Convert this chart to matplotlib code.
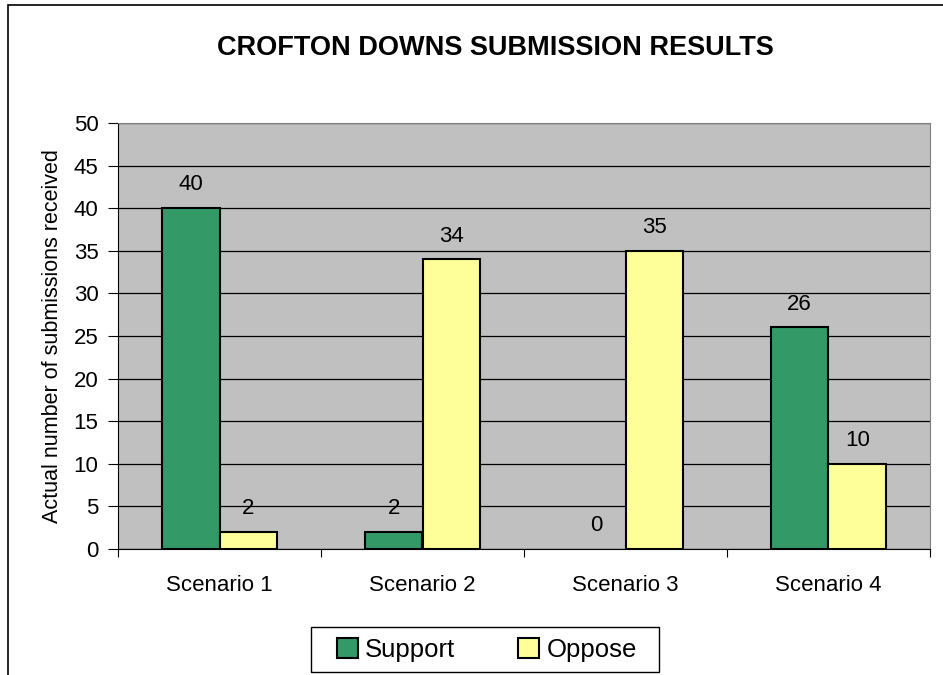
import matplotlib
matplotlib.use('Agg')
import matplotlib.pyplot as plt
from matplotlib.patches import Rectangle
import numpy as np

# data
categories = ['Scenario 1', 'Scenario 2', 'Scenario 3', 'Scenario 4']
support = [40, 2, 0, 26]
oppose = [2, 34, 35, 10]

plt.rcParams['font.family'] = ['Liberation Sans', 'DejaVu Sans']

fig = plt.figure(figsize=(9.43, 6.75), dpi=100)
ax = fig.add_axes([118 / 943, 1 - 549 / 675, (930 - 118) / 943, (549 - 123) / 675])

# outer chart border (only left and top edges visible in the crop)
fig.patches.append(Rectangle((8 / 943, -0.1), 1.2, 1 - 5 / 675 + 0.1,
                             transform=fig.transFigure, fill=False,
                             edgecolor='black', linewidth=1.2))

x = np.arange(len(categories))
w = 0.285
b1 = ax.bar(x - w / 2, support, w, color='#339966', edgecolor='black',
            linewidth=1.5, label='Support', zorder=3)
b2 = ax.bar(x + w / 2, oppose, w, color='#FFFF99', edgecolor='black',
            linewidth=1.5, label='Oppose', zorder=3)
for r, v in zip(list(b1) + list(b2), support + oppose):
    if v == 0:
        r.set_linewidth(0)

for bars, vals in ((b1, support), (b2, oppose)):
    for r, v in zip(bars, vals):
        ax.text(r.get_x() + r.get_width() / 2, v + 1.5, str(v),
                ha='center', va='bottom', fontsize=16)

ax.set_facecolor('#C0C0C0')
ax.set_xlim(-0.5, len(categories) - 0.5)
ax.set_ylim(0, 50)
ax.set_yticks(range(0, 51, 5))
ax.yaxis.grid(True, color='black', linewidth=0.9, zorder=1)
ax.set_axisbelow(True)

ax.set_xticks(np.arange(-0.5, len(categories), 1))
ax.set_xticklabels([])
ax.set_xticks(x, minor=True)
ax.set_xticklabels(categories, minor=True, fontsize=16)
ax.tick_params(axis='x', which='minor', length=0, pad=19)
ax.tick_params(axis='x', which='major', length=6, direction='out', color='black')
ax.tick_params(axis='y', length=7, labelsize=16, pad=7)

for s in ('top', 'right'):
    ax.spines[s].set_color('#808080')
for s in ('left', 'bottom'):
    ax.spines[s].set_color('black')

ax.set_ylabel('Actual number of submissions received', fontsize=15.5, labelpad=8)

fig.text(495 / 943, 1 - 48 / 675, 'CROFTON DOWNS SUBMISSION RESULTS', ha='center',
         va='center', fontsize=19.5, fontweight='bold')

# legend box drawn separately so the padding matches the original
fig.patches.append(Rectangle((311 / 943, 1 - 672 / 675), 348 / 943, 45 / 675,
                             transform=fig.transFigure, fill=True, facecolor='white',
                             edgecolor='black', linewidth=1.0))
leg = fig.legend(loc='center', bbox_to_anchor=(487 / 943, 1 - 650 / 675), ncol=2,
                 fontsize=18.5, frameon=False,
                 handlelength=0.8, handleheight=0.8, columnspacing=2.45,
                 handletextpad=0.3, borderpad=0.3)

fig.savefig('out.png', dpi=100)
